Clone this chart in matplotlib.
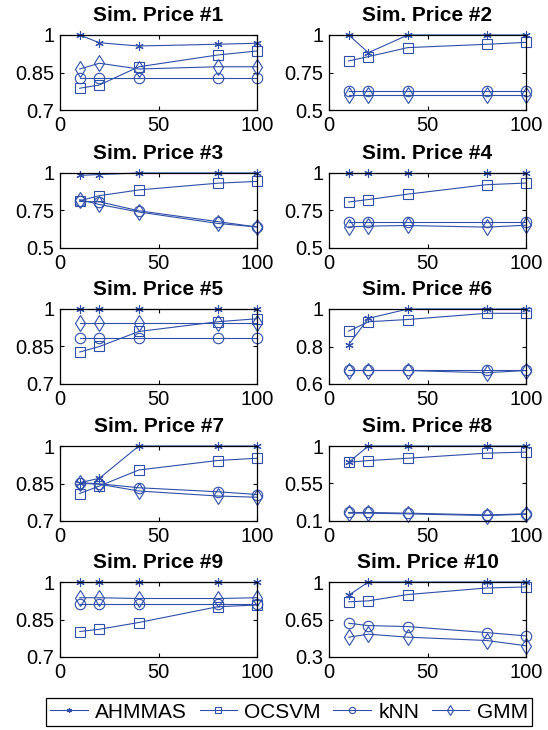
import matplotlib
matplotlib.use("Agg")
import matplotlib.pyplot as plt
import numpy as np

plt.rcParams['font.family'] = ['Liberation Sans', 'DejaVu Sans']

x = [10, 20, 40, 80, 100]
titles = ['Sim. Price #%d' % i for i in range(1, 11)]
methods = ['AHMMAS', 'OCSVM', 'kNN', 'GMM']

# y-limits and ticks of each panel
ylims = [(0.7, 1), (0.5, 1), (0.5, 1), (0.5, 1), (0.7, 1),
         (0.6, 1), (0.7, 1), (0.1, 1), (0.7, 1), (0.3, 1)]
yticks = [[0.7, 0.85, 1], [0.5, 0.75, 1], [0.5, 0.75, 1], [0.5, 0.75, 1], [0.7, 0.85, 1],
          [0.6, 0.8, 1], [0.7, 0.85, 1], [0.1, 0.55, 1], [0.7, 0.85, 1], [0.3, 0.65, 1]]

ahmmas = [
    [1.0, 0.969, 0.956, 0.963, 0.967],
    [1.0, 0.882, 1.0, 1.0, 1.0],
    [0.984, 0.99, 1.0, 1.0, 1.0],
    [1.0, 1.0, 1.0, 1.0, 1.0],
    [1.0, 1.0, 1.0, 1.0, 1.0],
    [0.81, 0.95, 1.0, 1.0, 1.0],
    [0.853, 0.871, 1.0, 1.0, 1.0],
    [0.805, 1.0, 1.0, 1.0, 1.0],
    [1.0, 1.0, 1.0, 1.0, 1.0],
    [0.877, 1.0, 1.0, 1.0, 1.0],
]
ocsvm = [
    [0.787, 0.80, 0.873, 0.92, 0.936],
    [0.827, 0.856, 0.916, 0.938, 0.951],
    [0.815, 0.849, 0.887, 0.932, 0.944],
    [0.807, 0.823, 0.859, 0.922, 0.933],
    [0.828, 0.85, 0.91, 0.949, 0.961],
    [0.882, 0.932, 0.944, 0.977, 0.977],
    [0.81, 0.84, 0.904, 0.942, 0.951],
    [0.805, 0.825, 0.853, 0.914, 0.927],
    [0.802, 0.811, 0.838, 0.901, 0.908],
    [0.815, 0.824, 0.883, 0.944, 0.954],
]
knn = [
    [0.829, 0.829, 0.829, 0.829, 0.829],
    [0.629, 0.629, 0.629, 0.629, 0.629],
    [0.81, 0.808, 0.748, 0.676, 0.64],
    [0.675, 0.675, 0.675, 0.675, 0.675],
    [0.882, 0.882, 0.882, 0.882, 0.882],
    [0.676, 0.676, 0.676, 0.676, 0.676],
    [0.853, 0.849, 0.833, 0.817, 0.806],
    [0.202, 0.202, 0.194, 0.173, 0.186],
    [0.914, 0.914, 0.914, 0.914, 0.914],
    [0.615, 0.593, 0.584, 0.528, 0.497],
]
gmm = [
    [0.864, 0.887, 0.864, 0.873, 0.873],
    [0.60, 0.60, 0.60, 0.60, 0.60],
    [0.822, 0.79, 0.74, 0.664, 0.64],
    [0.641, 0.646, 0.65, 0.639, 0.652],
    [0.945, 0.945, 0.945, 0.945, 0.945],
    [0.672, 0.672, 0.672, 0.66, 0.672],
    [0.851, 0.847, 0.82, 0.80, 0.795],
    [0.194, 0.194, 0.186, 0.165, 0.181],
    [0.937, 0.937, 0.934, 0.934, 0.937],
    [0.485, 0.513, 0.485, 0.454, 0.405],
]

color = '#2F4FA8'
W, H = 548, 730
fig = plt.figure(figsize=(W / 100, H / 100), dpi=100)

lefts = [60, 329]
tops = [35, 173, 309, 446, 582]
aw, ah = 197, 75

# matlab-like asterisk for AHMMAS
styles = [dict(marker=(6, 2, 0), ms=6, mfc=color),
          dict(marker='s', ms=7.5, mfc='none'),
          dict(marker='o', ms=7.5, mfc='none'),
          dict(marker='d', ms=8.5, mfc='none')]

lines = []
for i in range(10):
    r, c = divmod(i, 2)
    ax = fig.add_axes([lefts[c] / W, 1 - (tops[r] + ah) / H, aw / W, ah / H])
    series = [ahmmas[i], ocsvm[i], knn[i], gmm[i]]
    for name, ys, st in zip(methods, series, styles):
        ln, = ax.plot(x, ys, color=color, lw=0.8, mec=color, mew=0.8, label=name, clip_on=False, **st)
        if i == 0:
            lines.append(ln)
    ax.set_xlim(0, 100)
    ax.set_ylim(*ylims[i])
    ax.set_xticks([0, 50, 100])
    ax.set_yticks(yticks[i])
    ax.set_yticklabels(['%g' % v for v in yticks[i]])
    ax.tick_params(direction='in', length=3, labelsize=14.5, top=True, right=True)
    ax.tick_params(axis='y', pad=4)
    ax.tick_params(axis='x', pad=4)
    for s in ax.spines.values():
        s.set_linewidth(0.9)
    ax.set_title(titles[i], fontsize=15, fontweight='bold', pad=10)

leg = fig.legend(handles=lines, labels=methods, loc='center',
                 bbox_to_anchor=((48 + 530) / 2 / W, 1 - 712 / H), ncol=4, fontsize=15,
                 handlelength=1.8, handletextpad=0.35, columnspacing=0.6,
                 borderpad=0.2, fancybox=False, edgecolor='black', framealpha=1,
                 markerscale=0.6)
leg.get_frame().set_linewidth(0.9)

fig.savefig('out.png', dpi=100)
